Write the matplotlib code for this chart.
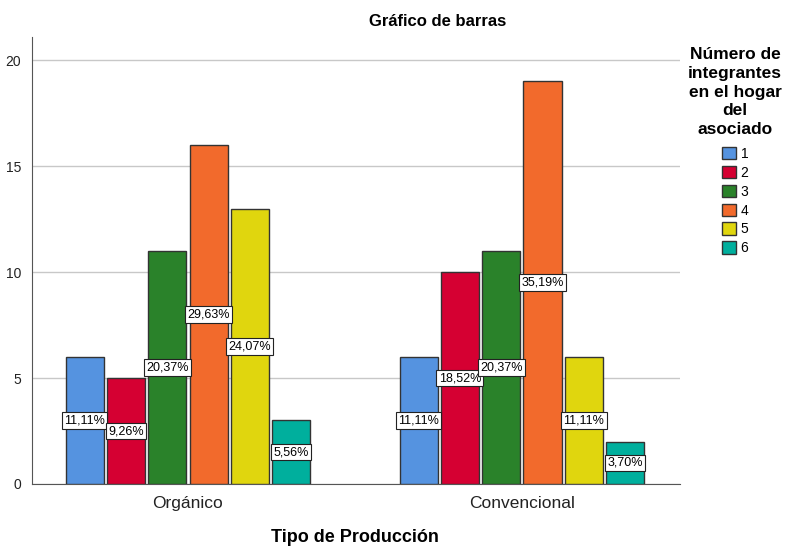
import matplotlib.pyplot as plt
import numpy as np

plt.rcParams['font.family'] = ['Liberation Sans', 'DejaVu Sans']

# datos
grupos = ['Orgánico', 'Convencional']
integrantes = ['1', '2', '3', '4', '5', '6']
conteos = [
    [6, 6],    # 1
    [5, 10],   # 2
    [11, 11],  # 3
    [16, 19],  # 4
    [13, 6],   # 5
    [3, 2],    # 6
]
porcentajes = [
    ['11,11%', '11,11%'],
    ['9,26%', '18,52%'],
    ['20,37%', '20,37%'],
    ['29,63%', '35,19%'],
    ['24,07%', '11,11%'],
    ['5,56%', '3,70%'],
]
colores = ['#5593E0', '#D50032', '#2A822A', '#F26A2C', '#E0D60E', '#00AF9D']

fig = plt.figure(figsize=(7.85, 5.48), dpi=100)
ax = fig.add_axes([0.0408, 0.1168, 0.8252, 0.8157])

x = np.arange(len(grupos))
paso = 0.1237
ancho = 0.114
for i, (vals, col) in enumerate(zip(conteos, colores)):
    pos = x + (i - 2.5) * paso
    ax.bar(pos, vals, width=ancho, color=col, edgecolor='#333333',
           linewidth=1.0, label=integrantes[i], zorder=3)
    for xp, v, p in zip(pos, vals, porcentajes[i]):
        ax.text(xp, v / 2, p, ha='center', va='center', fontsize=9, zorder=5,
                bbox=dict(boxstyle='square,pad=0.18', fc='white', ec='#222222', lw=0.8))

ax.set_xlim(-0.467, 1.473)
ax.set_ylim(0, 21.1)
ax.set_yticks([0, 5, 10, 15, 20])
ax.set_xticks(x)
ax.set_xticklabels(grupos, fontsize=12.5)
ax.tick_params(axis='y', length=0, labelsize=10, pad=8, colors='#222222')
ax.tick_params(axis='x', length=0, pad=9, colors='#222222')
ax.grid(axis='y', color='#C8C8C8', linewidth=1.0, zorder=0)
for s in ['top', 'right']:
    ax.spines[s].set_visible(False)
ax.spines['left'].set_color('#555555')
ax.spines['bottom'].set_color('#555555')

fig.text(355 / 785, 1 - 538 / 548, 'Tipo de Producción', ha='center', va='center',
         fontsize=13, fontweight='bold')
fig.text(438 / 785, 1 - 21 / 548, 'Gráfico de barras', ha='center', va='center',
         fontsize=12, fontweight='bold')

fig.text(735 / 785, 1 - 92 / 548, 'Número de\nintegrantes\nen el hogar\ndel\nasociado',
         ha='center', va='center', fontsize=12.5, fontweight='bold', linespacing=1.3)
ax.legend(loc='upper left', bbox_to_anchor=(715 / 785, 1 - 140 / 548),
          bbox_transform=fig.transFigure, frameon=False, fontsize=10,
          handlelength=1.0, handleheight=1.0, handletextpad=0.35,
          labelspacing=0.35, borderpad=0)

fig.savefig('out.png', dpi=100)
